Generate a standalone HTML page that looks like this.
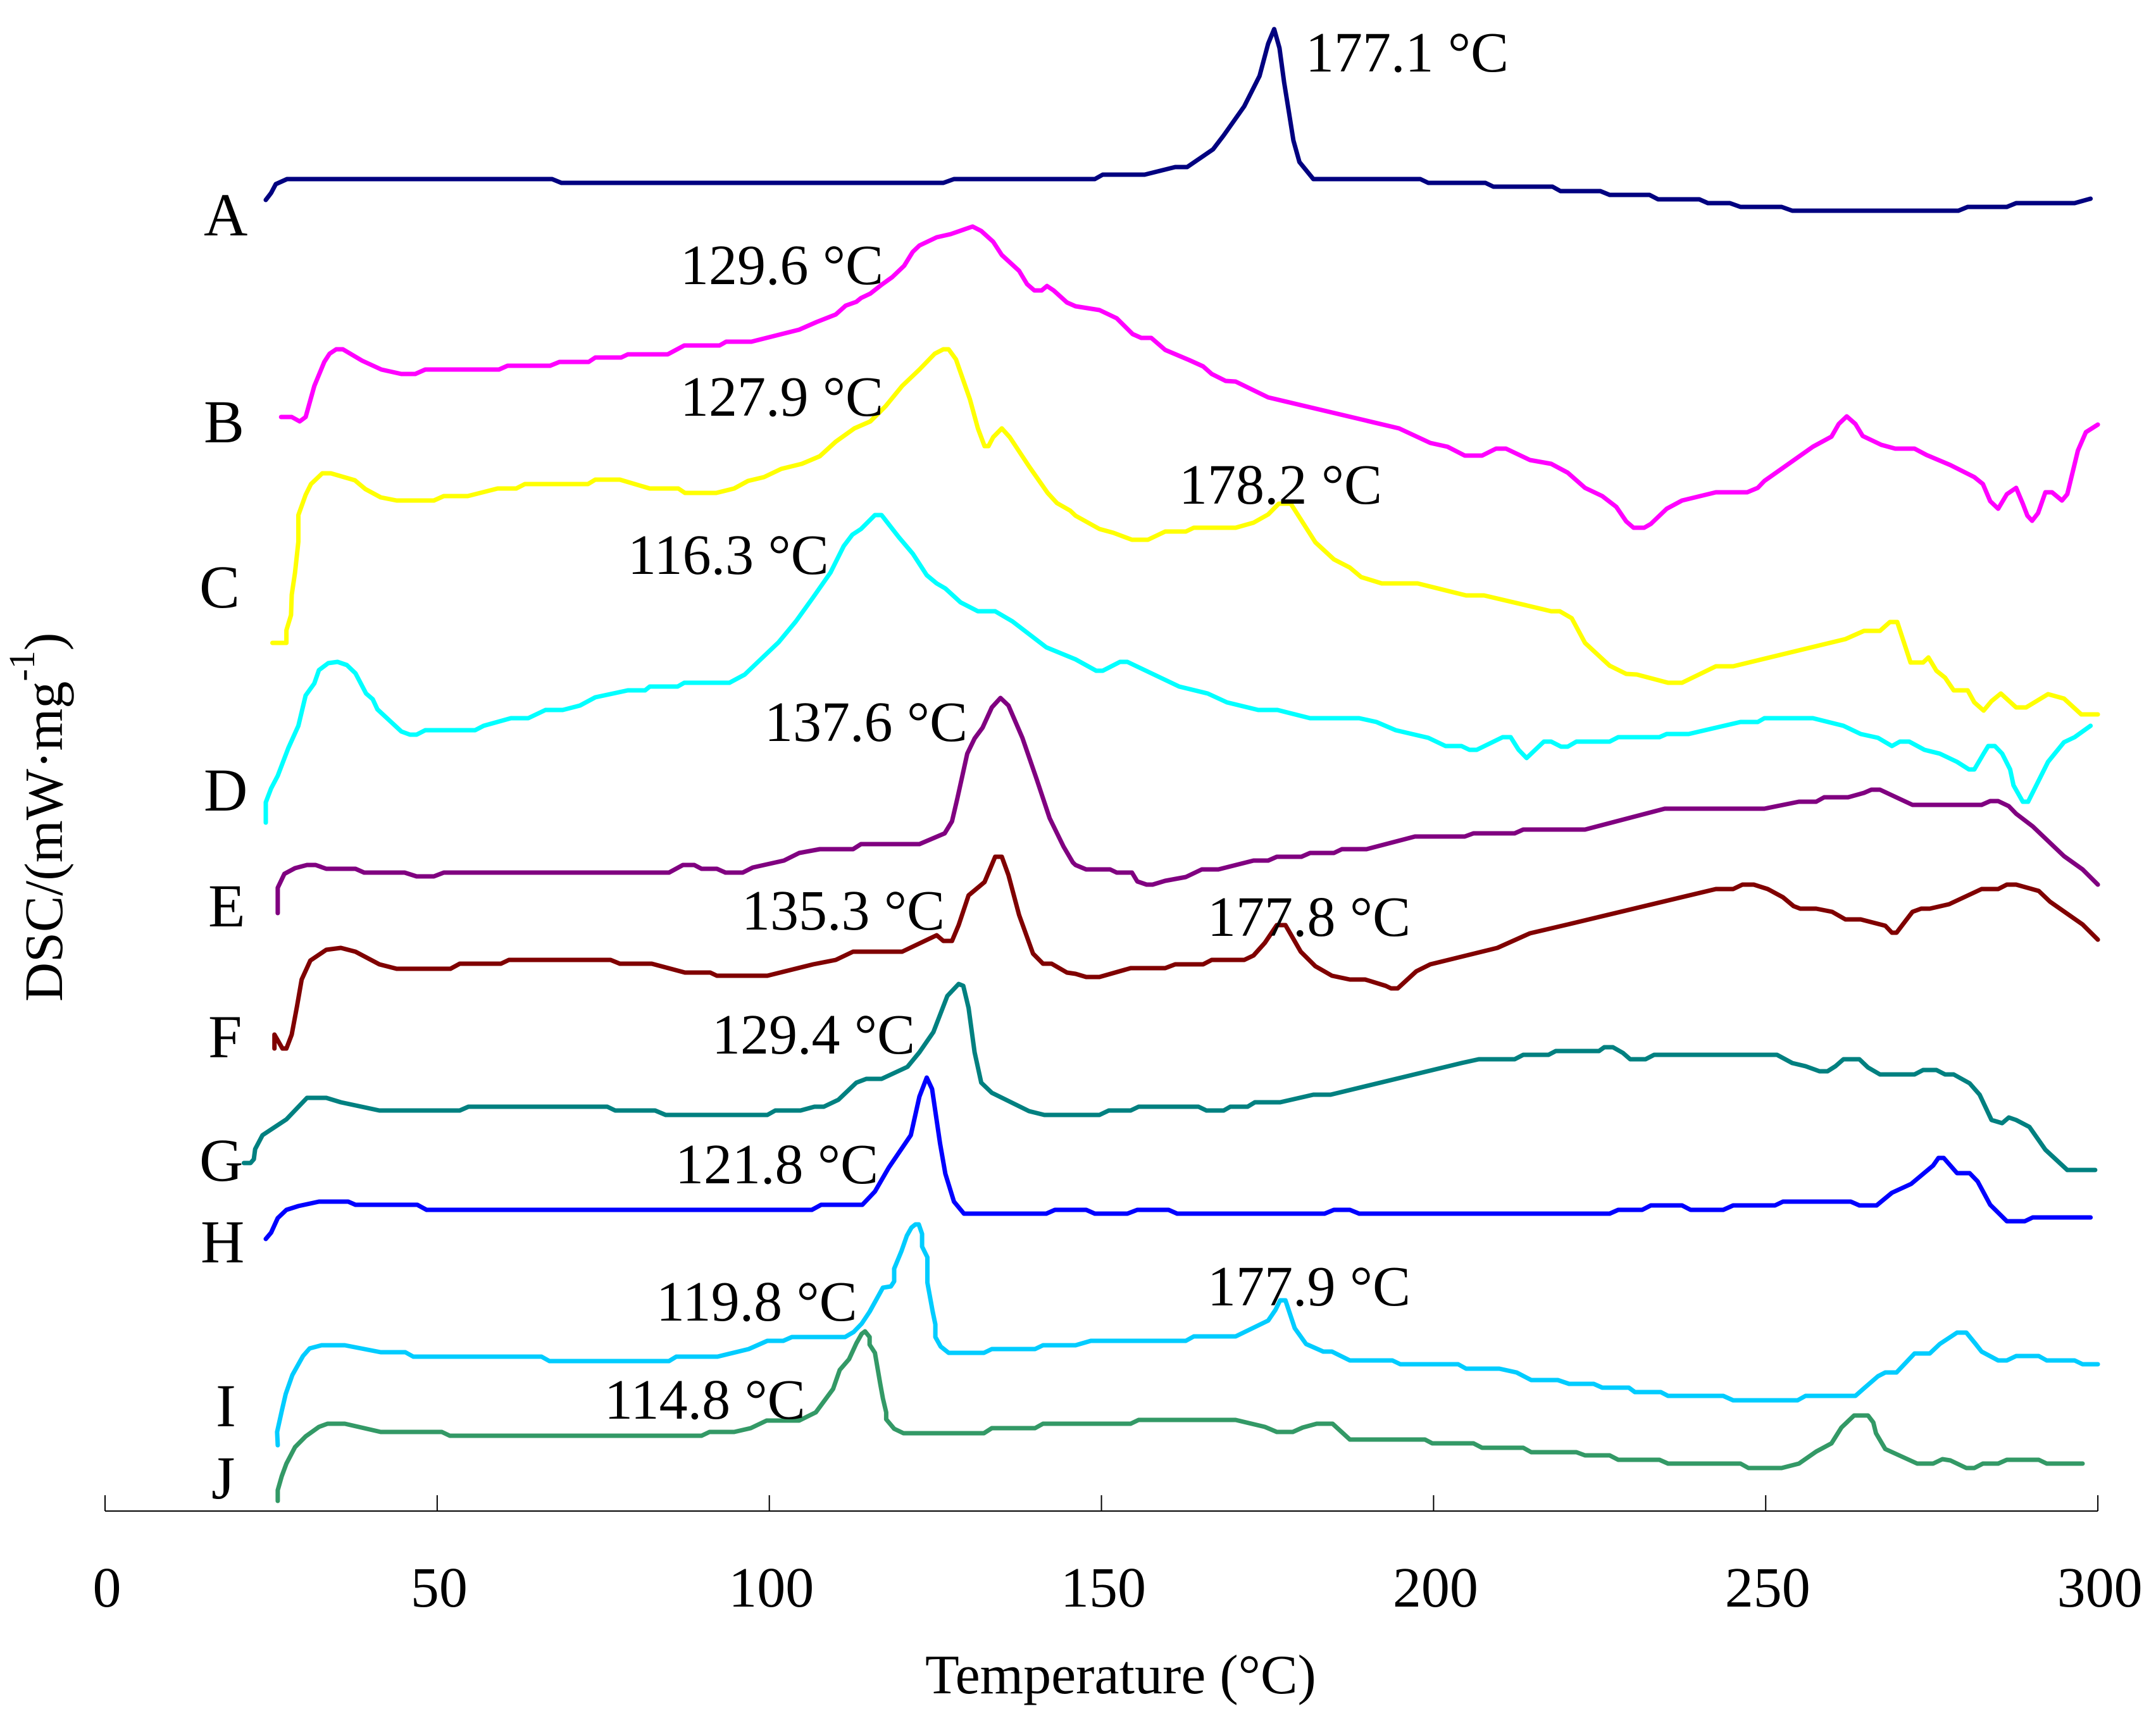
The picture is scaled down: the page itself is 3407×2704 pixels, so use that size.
<!DOCTYPE html>
<html lang="en">
<head>
<meta charset="utf-8">
<title>DSC curves</title>
<style>
html,body{margin:0;padding:0;background:#fff;}
svg{display:block;}
text{font-family:"Liberation Serif",serif;fill:#000;}
.peak{font-size:90px;}
.letter{font-size:96px;}
.tick{font-size:90px;text-anchor:middle;}
.title{font-size:88px;}
.ytitle{font-size:86px;}
</style>
</head>
<body>
<svg id="chart" xmlns="http://www.w3.org/2000/svg" width="3407" height="2704" viewBox="0 0 3407 2704">
<rect x="0" y="0" width="3407" height="2704" fill="#ffffff"/>
<g id="axis"></g>
<g id="curves"></g>

<text class="letter" x="322" y="372">A</text>
<text class="letter" x="322" y="699">B</text>
<text class="letter" x="315" y="960">C</text>
<text class="letter" x="322" y="1281">D</text>
<text class="letter" x="329" y="1464">E</text>
<text class="letter" x="329" y="1671">F</text>
<text class="letter" x="315" y="1866">G</text>
<text class="letter" x="317" y="1995">H</text>
<text class="letter" x="341" y="2254">I</text>
<text class="letter" x="334" y="2368">J</text>

<text class="peak" x="2063" y="113">177.1 °C</text>
<text class="peak" x="1075" y="449">129.6 °C</text>
<text class="peak" x="1075" y="657">127.9 °C</text>
<text class="peak" x="1863" y="796">178.2 °C</text>
<text class="peak" x="992" y="907">116.3 °C</text>
<text class="peak" x="1208" y="1171">137.6 °C</text>
<text class="peak" x="1172" y="1469">135.3 °C</text>
<text class="peak" x="1908" y="1479">177.8 °C</text>
<text class="peak" x="1125" y="1665">129.4 °C</text>
<text class="peak" x="1067" y="1870">121.8 °C</text>
<text class="peak" x="1908" y="2063">177.9 °C</text>
<text class="peak" x="1037" y="2087">119.8 °C</text>
<text class="peak" x="955" y="2242">114.8 °C</text>

<text class="title" x="1462" y="2676">Temperature (°C)</text>
<text class="ytitle" transform="translate(98,1583) rotate(-90)">DSC/(mW·mg<tspan font-size="58" dy="-44">-1</tspan><tspan dy="44">)</tspan></text>
</svg>
<script>
const xTickLabels = [0, 50, 100, 150, 200, 250, 300];

const tempsA = [24.2,25,25.7,27.4,67.3,68.7,126.2,127.8,146.1,149,150.2,156.5,161.1,162.9,166.8,168.4,171.5,173.8,175.1,176,176.8,177.5,178.2,178.9,179.8,181.9,198,199.2,207.8,209,217.9,219.1,225.1,226.5,232.5,233.8,240,241.3,244.6,246.2,252.4,254,279,280.4,286.3,287.7,296.5,298.9];
const dscA = [207.2,208.3,209.7,210.5,210.5,209.9,209.9,210.5,210.5,210.5,211.2,211.2,212.4,212.4,215.2,217.4,222,226.8,231.9,234.2,231.2,225.8,221.2,216.6,213.2,210.5,210.5,209.9,209.9,209.3,209.3,208.6,208.6,208,208,207.3,207.3,206.7,206.7,206.1,206.1,205.5,205.5,206.1,206.1,206.7,206.7,207.4];

const tempsB = [26.5,28.1,29.3,30.2,31.5,33,33.8,34.8,35.8,38.7,41.6,44.6,46.7,48.2,59.3,60.6,67,68.4,72.8,73.8,77.7,78.7,84.7,87.2,92.5,93.5,97.3,104.5,107.1,110,111.5,113.1,113.8,115.2,116.9,118.5,120.3,121.6,122.6,125.2,127.3,130.6,131.9,133.7,135,137.6,138.8,139.9,141,141.8,142.8,144.8,146.1,149.7,152.3,154.7,156,157.5,159.6,163.2,165.3,166.6,168.7,170.2,175.1,194.8,199.5,202.1,204.7,207.3,209.4,210.9,214.5,217.7,220.2,222.8,225.4,227.5,229,230.1,231.7,232.7,235.1,237.4,242.5,247.2,248.8,249.8,257.1,259.9,261,262.2,263.5,264.6,267.4,269.5,272.4,274.2,277.8,281.4,282.7,283.8,285,286.3,287.7,288.7,289.4,290.1,291,292.1,293.1,294.6,295.4,297,298.2,300];
const dscB = [172.9,172.9,172.2,172.9,177.8,181.6,182.9,183.6,183.6,181.8,180.4,179.7,179.7,180.4,180.4,181,181,181.6,181.6,182.3,182.3,182.8,182.8,184.2,184.2,184.8,184.8,186.7,187.9,189.1,190.5,191.1,191.7,192.4,193.8,195,196.8,199,200,201.3,201.8,203,202.3,200.6,198.5,196,193.9,192.9,192.9,193.6,192.9,191,190.4,189.8,188.5,186,185.4,185.4,183.5,181.9,180.9,179.7,178.6,178.5,176,171.1,168.8,168.2,166.8,166.8,167.9,167.9,166.1,165.5,164.1,161.7,160.4,158.7,156.4,155.4,155.4,156,158.4,159.7,161,161,161.7,162.8,168.2,169.8,171.8,173,171.8,169.9,168.5,167.9,167.9,166.9,165.3,163.4,162.3,159.6,158.4,160.7,161.7,159.2,157.3,156.5,157.7,161,161,159.7,160.7,167.6,170.5,171.7];

const tempsC = [25.2,27.3,27.3,28,28.1,28.6,29.1,29.1,30.2,31,32.7,34,37.6,39.2,41.5,43.9,49.5,51,54.6,59.1,61.9,63.2,72.7,73.8,77.5,82,86.3,87.3,92,94.7,96.8,99.2,101.8,104.9,107.6,110,112.8,115.2,117.5,120,122.6,124.9,126.2,127,128.1,130.2,131.4,132.4,133,133.7,135,136.2,139.1,141.9,143.3,145.3,146.1,149.7,151.8,154.6,157,159.6,162.7,163.9,170.2,172.9,175.1,176.7,178.5,182.2,185,187.4,189.1,192.2,197.6,204.9,207.6,214.5,217.7,219,220.8,222.8,226.5,229,230.6,235.3,237.4,242.5,245.1,262,264.8,267.2,268.7,269.8,271.8,273.7,274.5,275.7,277,278.3,280.4,281.4,282.8,284,285.4,287.7,289.2,292.5,294.9,297.5,300];
const dscC = [137.2,137.2,139.2,141.6,144.8,148.3,153.2,157.4,160.6,162.3,164,164,162.9,161.5,160.2,159.7,159.7,160.4,160.4,161.6,161.6,162.3,162.3,163,163,161.6,161.6,160.9,160.9,161.6,162.8,163.4,164.7,165.5,166.7,169,171.1,172.2,174.6,177.8,180.4,182.9,183.6,183.6,182,175.7,171.1,168.3,168.3,169.7,171.1,169.7,165.1,160.9,159.3,158.1,157.3,155.2,154.6,153.5,153.5,154.8,154.8,155.4,155.4,156.2,157.5,159.2,159.2,153.1,150.4,149.1,147.6,146.6,146.6,144.7,144.7,143,142.2,142.2,141.1,137.2,133.6,132.3,132.2,130.9,130.9,133.5,133.5,137.8,139.1,139.1,140.5,140.5,134.1,134.1,134.9,132.8,131.7,129.7,129.7,127.8,126.5,128,129.2,127,127,129.1,128.4,125.9,125.9];

const tempsD = [24.2,24.2,25,26,27.6,29.1,30.2,31.5,32.2,33.6,35,36.4,37.7,39.3,40.3,41,44.6,45.9,46.9,48.2,55.7,57,61.1,63.7,66.3,68.9,71.5,73.8,78.7,81.3,82,86.2,87.2,94,96.3,99.4,101.4,104,106.6,109.2,111.2,112.5,113.8,115.9,116.9,119.5,121.6,123.7,125.2,126.5,128.8,131.4,134,136.6,141.7,146.1,149.2,150.2,152.8,153.9,161.7,166,168.9,173.6,176.5,181.4,188.8,191.4,194.3,199.2,201.8,204.2,205.4,206.5,210.4,211.6,212.8,214,216.6,217.7,219.2,220.2,221.5,226.5,227.8,234,235.1,238.4,246.2,248.8,249.8,257.1,261.7,264.3,266.9,269,270.2,271.6,273.9,276.2,278.8,280.6,281.4,282.8,283.5,284.5,285.6,286.8,287.3,288.7,289.5,292.5,294.9,296.5,298.9];
const dscD = [108.8,112,114.2,116.2,120.6,124.1,128.9,130.8,132.9,134,134.2,133.7,132.4,129.2,128.3,126.7,123.2,122.7,122.7,123.4,123.4,124.1,125.3,125.3,126.6,126.6,127.3,128.6,129.7,129.7,130.3,130.3,130.9,130.9,132.2,135.3,137.3,140.6,144.4,148.3,152.5,154.3,155.2,157.4,157.4,153.9,151.3,147.9,146.6,145.8,143.6,142.2,142.2,140.6,136.5,134.6,132.8,132.8,134.2,134.2,130.3,129.2,127.8,126.6,126.6,125.3,125.3,124.7,123.4,122.2,120.9,120.9,120.3,120.3,122.3,122.3,120.3,119,121.6,121.6,120.8,120.8,121.6,121.6,122.3,122.3,122.8,122.8,124.7,124.7,125.3,125.3,124.1,122.8,122.2,120.9,121.6,121.6,120.3,119.7,118.4,117.2,117.2,119.7,120.9,120.9,119.7,117.2,114.7,112.1,112.1,118.4,121.5,122.3,124.1];

const tempsE = [26,26,27,28.6,30.4,31.7,33.3,37.7,39,45.1,46.9,49.5,51,84.9,87,88.7,89.8,92.1,93.4,96,97.5,102.2,104.5,107.6,112.6,113.8,122.6,126.4,127.5,128.3,129.8,130.9,132.1,133.5,134.8,136,138.1,140.2,142.2,144.3,145.7,146.1,147.7,151.3,152.3,154.6,155.4,156.8,157.7,159.6,162.7,165.1,167.6,172.9,175.1,176.4,180.1,181.4,185,186.2,189.9,197.2,204.7,206,212.2,213.5,222.8,234.8,249.8,255,257.6,258.8,262.4,264.8,265.9,267.2,272.1,282.5,283.8,285,286.6,287.7,290.2,294.9,297.7,300];
const dscE = [94.5,98.5,100.7,101.6,102.1,102.1,101.5,101.5,100.9,100.9,100.3,100.3,100.9,100.9,102.1,102.1,101.5,101.5,100.9,100.9,101.7,102.8,104,104.6,104.6,105.4,105.4,107.1,109,112.6,119.7,122.1,123.8,127,128.5,127.3,122.2,115.8,109.5,105,102.5,102.1,101.4,101.4,100.9,100.9,99.5,99,99,99.6,100.2,101.4,101.4,102.8,102.8,103.4,103.4,104,104,104.6,104.6,106.6,106.6,107.1,107.1,107.7,107.7,111,111,112.1,112.1,112.8,112.8,113.5,114,114,111.6,111.6,112.2,112.2,111.4,110.2,108.2,103.5,101.4,99];

const tempsF = [25.5,25.5,26.7,27.3,28.1,28.9,29.6,30.9,33.3,35.5,37.7,41.3,43.9,52,53.4,59.6,60.8,76.1,77.5,82.3,87.3,91.1,92.1,99.7,106.6,110,112.6,120,125.2,126.2,127.5,128.5,130,132.4,134,135,136,137.6,139.7,141.2,142.5,144.8,146.1,147.7,149.7,154.4,159.6,161.1,165.3,166.6,171.5,172.9,174.6,176.4,177.7,180,182.2,184.7,187.4,189.7,192.8,193.6,194.6,197.4,199.5,209.6,214.5,220.2,242.5,245.1,246.5,248.2,250.3,252.6,254.2,255.2,257.6,260,262,264.3,268,269,269.7,271,272.1,273.4,274.7,277.6,282.5,285,286.3,287.7,291.1,292.8,297.7,300];
const dscF = [73.1,75.3,73.1,73.1,75.3,79.8,84,87,88.7,89,88.4,86.4,85.7,85.7,86.5,86.5,87.1,87.1,86.5,86.5,85.1,85.1,84.6,84.6,86.4,87.1,88.4,88.4,91,90.1,90.1,92.6,97.3,99.4,103.4,103.4,100.5,94.2,88.1,86.5,86.5,85.1,84.9,84.4,84.4,85.8,85.8,86.4,86.4,87.1,87.1,87.8,89.8,92.6,92.6,88.4,86.1,84.6,84,84,83,82.6,82.6,85.3,86.4,89,91.3,92.7,98.3,98.3,99,99,98.3,97,95.6,95.2,95.2,94.7,93.5,93.5,92.5,91.4,91.4,93.2,94.7,95.2,95.2,95.9,98.3,98.3,99,99,98,96.3,92.7,90.3];

const tempsG = [20.9,21.9,22.4,22.6,23.7,27.3,30.4,33.3,35.5,41.3,53.4,54.7,75.6,76.8,82.8,84.4,99.7,100.9,104.7,106.8,108.2,110.4,113.1,114.6,116.9,120.8,122.6,124.7,126.8,128.5,129.2,130,130.9,131.9,133.5,139.1,141.4,146.1,149.7,151.1,154.4,155.6,164.6,165.8,168.4,169.4,172,173.1,176.9,181.9,184.5,204.2,206.8,212.2,213.5,217.3,218.4,224.9,225.7,227,228.5,229.6,231.9,233.2,251.7,254,256,258.1,259.3,260.5,261.7,264.1,265.4,267.2,272.4,273.7,275.7,277,278.3,280.7,282.2,284,285.6,286.6,287.7,289.7,292.1,295.4,299.6];
const dscG = [55,55,55.6,57.2,59.4,61.9,65.3,65.3,64.6,63.3,63.3,63.9,63.9,63.3,63.3,62.6,62.6,63.3,63.3,63.9,63.9,65,67.7,68.3,68.3,70.2,72.5,75.7,81.4,83.3,83,79.5,72.5,67.7,66.1,63.2,62.6,62.6,62.6,63.3,63.3,63.9,63.9,63.3,63.3,63.9,63.9,64.6,64.6,65.8,65.8,70.8,71.4,71.4,72.1,72.1,72.7,72.7,73.3,73.3,72.4,71.4,71.4,72.1,72.1,70.8,70.3,69.5,69.5,70.3,71.4,71.4,70.1,69,69,69.7,69.7,69,69,67.6,65.8,61.8,61.3,62.2,61.8,60.7,57.1,53.9,53.9];

const tempsH = [24.2,25,26,27.3,29.1,32.2,36.6,37.7,47,48.4,106.4,107.8,114,115.9,118,121.3,122.6,123.7,124.5,125.7,126.5,127.8,129.3,141.7,143,146.1,147.7,149,153.9,155.4,160.1,161.4,183.6,185,187.4,188.8,226.5,227.8,231.4,232.7,237.4,238.7,243.6,245.1,251.4,252.6,262.8,264.1,266.7,269,271.9,275.2,276,276.8,278.8,280.7,281.9,283.8,286.3,289,290.2,298.9];
const dscH = [43,44,46.3,47.6,48.2,48.9,48.9,48.4,48.4,47.6,47.6,48.4,48.4,50.5,54.3,59.4,65.5,68.5,66.7,58.1,53.3,48.9,47,47,47.6,47.6,47.6,47,47,47.6,47.6,47,47,47.6,47.6,47,47,47.6,47.6,48.3,48.3,47.6,47.6,48.3,48.3,48.9,48.9,48.3,48.3,50.3,51.7,54.6,55.8,55.8,53.4,53.4,52.1,48.4,45.8,45.8,46.4,46.4];

const tempsI = [26,25.9,26.6,27.2,28.2,29.8,30.8,32.6,36.1,41.5,45.2,46.4,65.7,66.9,84.9,86,92.2,96.9,99.7,102.1,103.4,111.4,112.7,113.9,115.1,117.1,118.3,118.8,118.8,119.9,120.7,121.4,122,122.5,123,123,123.8,123.8,124.6,125,125,125.8,127,132.3,133.5,140,141.2,146.1,148.4,162.7,163.9,170.2,175.1,176.2,176.9,177.7,179.1,180.8,183.4,184.7,187.4,193.8,195,203.7,204.9,209.9,212.5,214.7,218.7,220.4,224.1,225.4,229.4,230.3,234.2,235.3,243.6,245.1,254.8,256,263.5,264.8,266.9,268,269.7,272.4,274.7,276.2,278.8,280.2,281.6,282.5,285,286.3,287.7,291.1,292.3,296.5,297.7,300];
const dscI = [10.4,12.5,15.8,18.5,21.5,24.5,25.7,26.2,26.2,25.1,25.1,24.4,24.4,23.7,23.7,24.4,24.4,25.6,26.9,26.9,27.5,27.5,28.3,29.6,31.5,35.3,35.5,36.3,38.3,41.1,43.5,44.8,45.3,45.3,43.8,41.8,40.1,36.1,31.5,29.5,27.5,26,25,25,25.6,25.6,26.2,26.2,26.9,26.9,27.6,27.6,30.1,31.8,33.3,33.3,28.9,26.4,25.2,25.2,23.8,23.8,23.2,23.2,22.5,22.5,21.9,20.7,20.7,20.1,20.1,19.5,19.5,18.8,18.8,18.2,18.2,17.5,17.5,18.2,18.2,19.4,21.3,21.9,21.9,24.9,24.9,26.4,28.2,28.2,26.4,25.2,23.8,23.8,24.5,24.5,23.8,23.8,23.2,23.2];

const tempsJ = [26,26,26.6,27.3,28.6,30.2,32.2,33.5,36.1,41.5,50.7,51.9,89.8,91,94.7,97.2,99.6,104.5,107,109.6,110.6,112,113.1,113.9,114.4,115.1,115.1,115.9,116.7,117.1,117.6,117.6,118.8,120.2,132.3,133.5,140,141.2,146.1,154.4,155.6,170.2,174.6,176.4,178.8,180.3,182.4,184.8,187.4,198.7,199.8,206,207.3,213.5,214.7,221.5,222.8,226.5,227.8,234,235.3,246.2,247.4,252.4,255,257.6,259.9,261.4,263.3,265.4,266.2,266.6,268,272.8,275.2,276.6,277.8,280.2,281.4,282.7,285,286.3,291.1,292.3,297.7];
const dscJ = [1.6,3.3,5.5,7.5,10.1,11.8,13.3,13.8,13.8,12.5,12.5,11.9,11.9,12.5,12.5,13.1,14.3,14.3,15.6,19.3,22.3,24,26.5,28,28.4,27.5,26.3,25,20.1,17.8,15.6,14.5,13,12.3,12.3,13.1,13.1,13.8,13.8,13.8,14.4,14.4,13.3,12.5,12.5,13.2,13.8,13.8,11.3,11.3,10.7,10.7,10,10,9.3,9.3,8.8,8.8,8.1,8.1,7.5,7.5,6.8,6.8,7.5,9.4,10.7,13.2,15.1,15.1,14,12.3,9.8,7.5,7.5,8.2,8,6.8,6.8,7.5,7.5,8.1,8.1,7.5,7.5];

const SVG_NS = 'http://www.w3.org/2000/svg';
function xOf(temp) { return 166 + temp * 10.497; }
function yOf(dsc) { return 2388 - dsc * 10; }

const axisGroup = document.getElementById('axis');
const baseline = document.createElementNS(SVG_NS, 'line');


baseline.setAttribute('x1', xOf(xTickLabels[0]));
baseline.setAttribute('x2', xOf(xTickLabels[xTickLabels.length - 1]));
baseline.setAttribute('y1', 2388);
baseline.setAttribute('y2', 2388);
baseline.setAttribute('stroke', '#000');
baseline.setAttribute('stroke-width', '2');
axisGroup.appendChild(baseline);

xTickLabels.forEach(function (value) {
  const tick = document.createElementNS(SVG_NS, 'line');
  
  
  tick.setAttribute('x1', xOf(value));
  tick.setAttribute('x2', xOf(value));
  tick.setAttribute('y1', 2363);
  tick.setAttribute('y2', 2388);
  tick.setAttribute('stroke', '#000');
  tick.setAttribute('stroke-width', '2');
  axisGroup.appendChild(tick);
  const label = document.createElementNS(SVG_NS, 'text');
  
  
  label.setAttribute('class', 'tick');
  label.setAttribute('x', xOf(value) + 3);
  label.setAttribute('y', 2539);
  label.textContent = String(value);
  axisGroup.appendChild(label);
});

const curvesGroup = document.getElementById('curves');
function drawCurve(name, temps, values, color) {
  const points = [];
  for (let i = 0; i < Math.min(temps.length, values.length); i++) {
    points.push(xOf(temps[i]).toFixed(1) + ',' + yOf(values[i]).toFixed(1));
  }
  const line = document.createElementNS(SVG_NS, 'polyline');
  
  
  line.setAttribute('points', points.join(' '));
  line.setAttribute('fill', 'none');
  line.setAttribute('stroke', color);
  line.setAttribute('stroke-width', '7');
  line.setAttribute('stroke-linejoin', 'round');
  line.setAttribute('stroke-linecap', 'round');
  curvesGroup.appendChild(line);
}
drawCurve('a', tempsA, dscA, '#000080');
drawCurve('b', tempsB, dscB, '#ff00ff');
drawCurve('c', tempsC, dscC, '#ffff00');
drawCurve('d', tempsD, dscD, '#00ffff');
drawCurve('e', tempsE, dscE, '#800080');
drawCurve('f', tempsF, dscF, '#800000');
drawCurve('g', tempsG, dscG, '#008080');
drawCurve('h', tempsH, dscH, '#0000ff');
drawCurve('i', tempsI, dscI, '#00ccff');
drawCurve('j', tempsJ, dscJ, '#339966');
</script>
</body>
</html>
